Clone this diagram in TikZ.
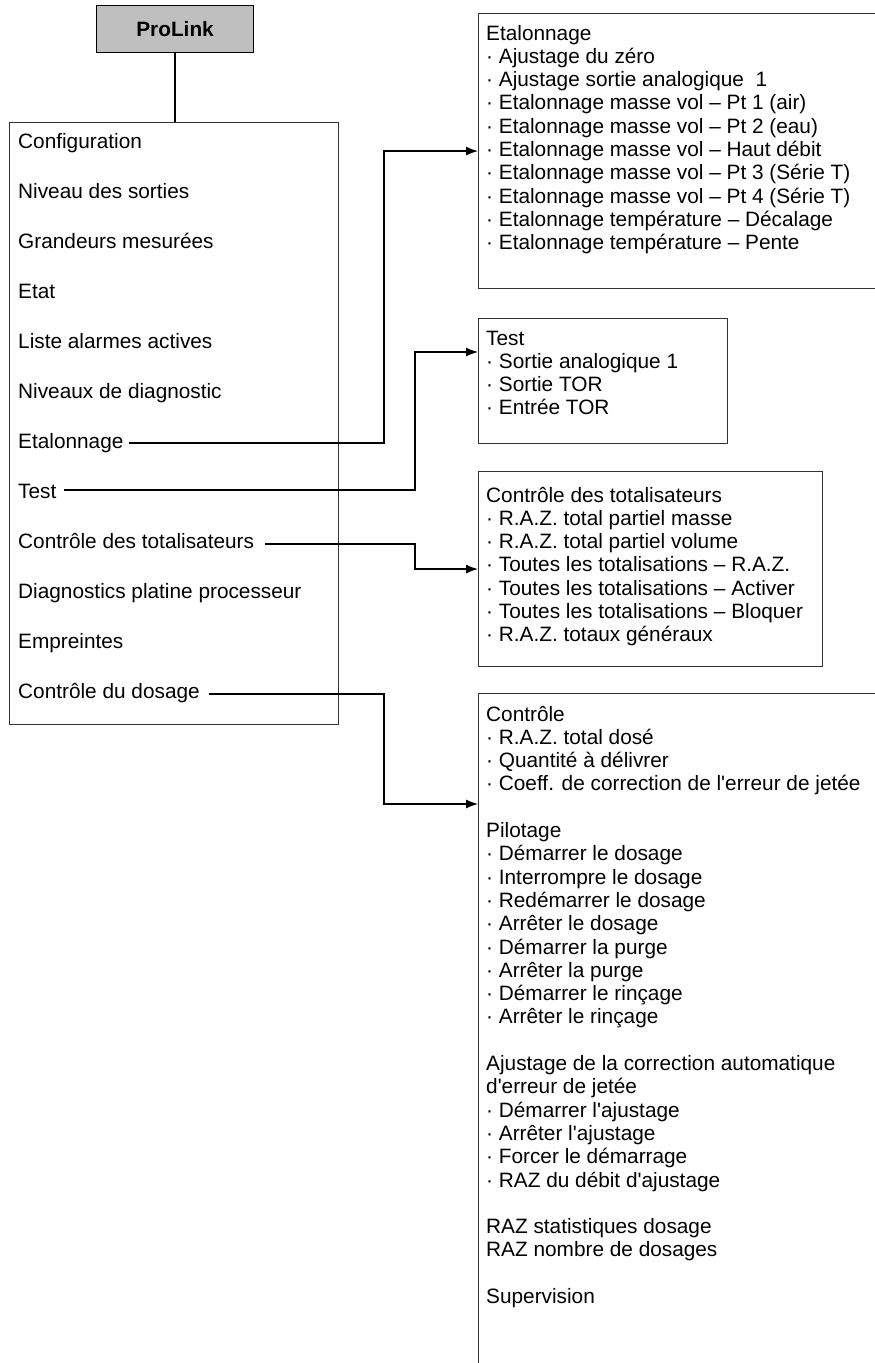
\documentclass[tikz,border=0pt]{standalone}
\usepackage{fontspec}
\setmainfont{Liberation Sans}
\usetikzlibrary{arrows.meta,calc}
\newcommand{\apo}{\textquotesingle}
\begin{document}
\begin{tikzpicture}[x=1pt,y=-1pt,
  txt/.style={inner sep=0pt,font=\fontsize{20.8}{23.3}\selectfont},
  item/.style={txt,anchor=base west},
  box/.style={draw=black!80,line width=1.1pt,anchor=north west,inner sep=0pt},
  conn/.style={draw=black,line width=1.2pt},
  arr/.style={conn,-{Latex[length=12pt,width=9pt]}}]
\useasboundingbox (0,0) rectangle (875,1363);
\clip (0,0) rectangle (875,1363);

% top box
\node[box,draw=black,fill=black!25,minimum width=157pt,minimum height=47pt] (prolink) at (96,5) {};
\node[txt,font=\fontsize{20.8}{23.3}\selectfont\bfseries] (prolinkT) at (prolink.center) {ProLink};

% left menu box
\node[box,minimum width=329pt,minimum height=602pt] (menu) at (9,122) {};
\draw[conn] (prolink.south) -- (prolink.south |- menu.north);

\node[item] (i1) at (18,148) {Configuration};
\node[item] (i2) at (18,198) {Niveau des sorties};
\node[item] (i3) at (18,248) {Grandeurs mesurées};
\node[item] (i4) at (18,298) {Etat};
\node[item] (i5) at (18,348) {Liste alarmes actives};
\node[item] (i6) at (18,398) {Niveaux de diagnostic};
\node[item] (i7) at (18,448) {Etalonnage};
\node[item] (i8) at (18,498) {Test};
\node[item] (i9) at (18,548) {Contrôle des totalisateurs};
\node[item] (i10) at (18,598) {Diagnostics platine processeur};
\node[item] (i11) at (18,648) {Empreintes};
\node[item] (i12) at (18,698) {Contrôle du dosage};

% right boxes
\node[box,minimum width=440pt,minimum height=275pt] (etalbox) at (478,13) {};
\node[item] (etalT) at (486,40) {\begin{tabular}[t]{@{}l@{}}
Etalonnage\\
· Ajustage du zéro\\
· Ajustage sortie analogique~~1\\
· Etalonnage masse vol – Pt 1 (air)\\
· Etalonnage masse vol – Pt 2 (eau)\\
· Etalonnage masse vol – Haut débit\\
· Etalonnage masse vol – Pt 3 (Série T)\\
· Etalonnage masse vol – Pt 4 (Série T)\\
· Etalonnage température – Décalage\\
· Etalonnage température – Pente
\end{tabular}};

\node[box,minimum width=249pt,minimum height=125pt] (testbox) at (478,318) {};
\node[item] (testT) at (486,345) {\begin{tabular}[t]{@{}l@{}}
Test\\
· Sortie analogique 1\\
· Sortie TOR\\
· Entrée TOR
\end{tabular}};

\node[box,minimum width=344pt,minimum height=195pt] (totbox) at (478,471) {};
\node[item] (totT) at (486,502) {\begin{tabular}[t]{@{}l@{}}
Contrôle des totalisateurs\\
· R.A.Z. total partiel masse\\
· R.A.Z. total partiel volume\\
· Toutes les totalisations – R.A.Z.\\
· Toutes les totalisations – Activer\\
· Toutes les totalisations – Bloquer\\
· R.A.Z. totaux généraux
\end{tabular}};

\node[box,minimum width=440pt,minimum height=720pt] (dosbox) at (478,693) {};
\node[item] (dosT) at (486,721) {\begin{tabular}[t]{@{}l@{}}
Contrôle\\
· R.A.Z. total dosé\\
· Quantité à délivrer\\
· Coeff. de correction de l\apo erreur de jetée\\
\\
Pilotage\\
· Démarrer le dosage\\
· Interrompre le dosage\\
· Redémarrer le dosage\\
· Arrêter le dosage\\
· Démarrer la purge\\
· Arrêter la purge\\
· Démarrer le rinçage\\
· Arrêter le rinçage\\
\\
Ajustage de la correction automatique\\
d\apo erreur de jetée\\
· Démarrer l\apo ajustage\\
· Arrêter l\apo ajustage\\
· Forcer le démarrage\\
· RAZ du débit d\apo ajustage\\
\\
RAZ statistiques dosage\\
RAZ nombre de dosages\\
\\
Supervision
\end{tabular}};

% connectors
\coordinate (s7) at ($(i7.base east)+(5,-5)$);
\coordinate (s8) at ($(i8.base east)+(7,-8)$);
\coordinate (s9) at ($(i9.base east)+(11,-4)$);
\coordinate (s12) at ($(i12.base east)+(9,-4)$);
\coordinate (tin) at ($(testbox.north west)+(0,34)$);
\coordinate (din) at ($(dosbox.north west)+(0,111)$);

\draw[arr] (s7) -| ([xshift=-94pt]etalbox.west) -- (etalbox.west);
\draw[arr] (s8) -| ([xshift=-63pt]tin) -- (tin);
\draw[arr] (s9) -| ([xshift=-63pt]totbox.west) -- (totbox.west);
\draw[arr] (s12) -| ([xshift=-94pt]din) -- (din);
\end{tikzpicture}
\end{document}
